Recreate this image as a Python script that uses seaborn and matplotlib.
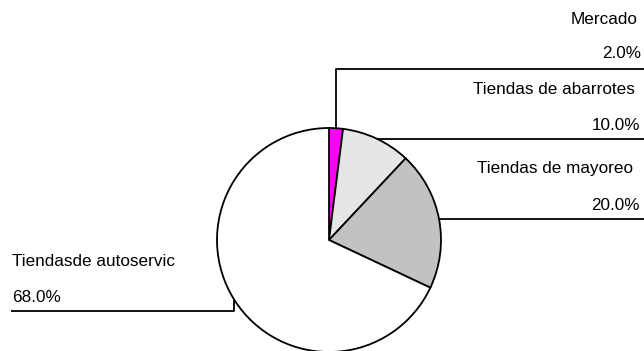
import matplotlib
matplotlib.use("Agg")
import matplotlib.pyplot as plt
import seaborn as sns
import numpy as np

# Share of purchases by type of outlet
categories = ["Mercado", "Tiendas de abarrotes", "Tiendas de mayoreo", "Tiendasde autoservic"]
shares = [2.0, 10.0, 20.0, 68.0]
colors = ["#ff00ff", "#e6e6e6", "#c2c2c2", "#ffffff"]

sns.set_theme(style="white")
plt.rcParams["font.family"] = ["Liberation Sans", "DejaVu Sans"]
plt.rcParams["text.color"] = "black"

W, H = 644, 351
fig = plt.figure(figsize=(W / 100, H / 100), dpi=100)
ax = fig.add_axes([0, 0, 1, 1])

cx, cy, r = 329, H - 240, 112
wedges, _ = ax.pie(shares, colors=colors, startangle=90, counterclock=False,
                   center=(cx, cy), radius=r, frame=True,
                   wedgeprops=dict(edgecolor="black", linewidth=1.3))
ax.set_xlim(0, W)
ax.set_ylim(0, H)
ax.set_aspect("equal")
ax.axis("off")

def mid_point(w):
    ang = np.deg2rad((w.theta1 + w.theta2) / 2)
    return cx + r * np.cos(ang), cy + r * np.sin(ang)

lk = dict(color="black", lw=1.3, solid_capstyle="butt")
fs = 12.3
tk = dict(va="center", fontsize=fs, color="black")

# Mercado: up then right
x0, y0 = mid_point(wedges[0])
ax.plot([x0, x0, W], [y0, H - 69, H - 69], **lk)
ax.text(638, H - 20, categories[0], ha="right", **tk)
ax.text(641, H - 54, f"{shares[0]:.1f}%", ha="right", **tk)

# Tiendas de abarrotes: straight right
x0, y0 = mid_point(wedges[1])
ax.plot([x0, W], [y0, y0], **lk)
ax.text(635, H - 89, categories[1], ha="right", **tk)
ax.text(640, H - 126, f"{shares[1]:.1f}%", ha="right", **tk)

# Tiendas de mayoreo: straight right
x0, y0 = mid_point(wedges[2])
ax.plot([x0, W], [y0, y0], **lk)
ax.text(633, H - 169, categories[2], ha="right", **tk)
ax.text(640, H - 205, f"{shares[2]:.1f}%", ha="right", **tk)

# Tiendas de autoservicio: down then left
x0, y0 = mid_point(wedges[3])
ax.plot([x0, x0, 11], [y0, H - 311, H - 311], **lk)
ax.text(12, H - 262, categories[3], ha="left", **tk)
ax.text(12, H - 297, f"{shares[3]:.1f}%", ha="left", **tk)

fig.savefig("out.png", dpi=100, facecolor="white")
